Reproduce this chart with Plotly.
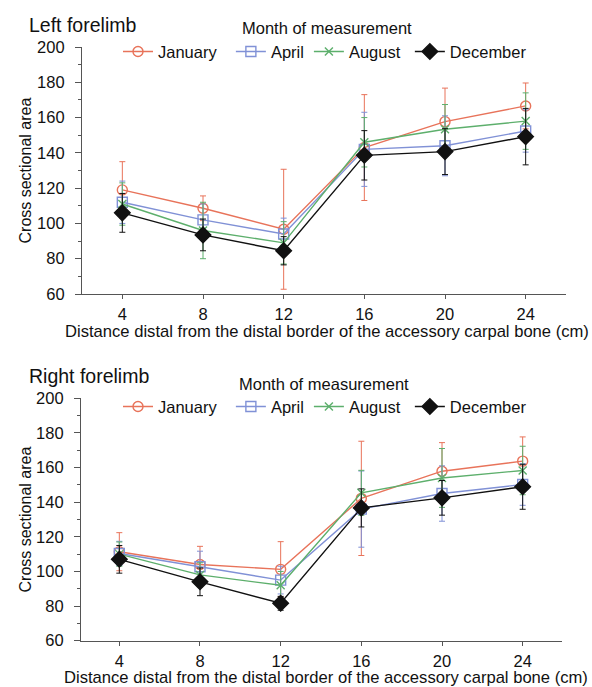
import plotly.graph_objects as go

# ---------------- data ----------------
distance_cm = [4, 8, 12, 16, 20, 24]
months = ["January", "April", "August", "December"]

left_mean = {
    "January":  [119.0, 108.6, 96.7, 143.0, 157.7, 166.6],
    "April":    [112.0, 102.0, 94.0, 142.0, 144.0, 152.4],
    "August":   [111.0, 96.0, 89.0, 146.0, 153.4, 158.0],
    "December": [106.0, 93.5, 84.5, 138.6, 140.7, 149.2],
}
left_sd = {
    "January":  [16, 7, 34, 30, 19, 13],
    "April":    [12, 9, 9, 21, 17, 12],
    "August":   [12, 16, 12, 14, 14, 16],
    "December": [11, 9, 8, 14, 13, 16],
}
right_mean = {
    "January":  [111.4, 104.0, 101.2, 142.2, 157.9, 163.7],
    "April":    [110.4, 102.7, 95.0, 136.0, 145.0, 150.2],
    "August":   [110.0, 98.0, 92.0, 145.4, 154.0, 158.3],
    "December": [107.0, 94.0, 81.6, 136.7, 142.5, 148.9],
}
right_sd = {
    "January":  [11, 10.5, 16, 33, 16.5, 14],
    "April":    [7, 9, 8, 22, 16, 12],
    "August":   [7, 7, 8, 13, 17, 14],
    "December": [8, 8, 4, 11, 10, 13],
}
y_ticks = [60, 80, 100, 120, 140, 160, 180, 200]
x_ticks = [4, 8, 12, 16, 20, 24]

# ---------------- styles ----------------
W, H = 592, 687
FONT = "Liberation Sans, Arial, Helvetica, sans-serif"
colors = {"January": "#E8735A", "April": "#8091D6", "August": "#5DAF6C", "December": "#111111"}
symbols = {"January": "circle-open", "April": "square-open", "August": "x-thin-open", "December": "diamond"}
sizes = {"January": 10, "April": 10, "August": 8, "December": 12}
NB = "\u00a0"
legend_label = {"January": "January" + NB * 2, "April": "April", "August": "August" + NB,
                "December": "December"}

def px_x(p):
    return p / W

def px_y(p):
    return 1 - p / H

fig = go.Figure()

for means, sds, xa, ya, lg in [
    (left_mean, left_sd, "x", "y", "legend"),
    (right_mean, right_sd, "x2", "y2", "legend2"),
]:
    for m in months:
        fig.add_trace(go.Scatter(
            x=distance_cm, y=means[m], name=legend_label[m], mode="lines+markers",
            xaxis=xa, yaxis=ya, legend=lg,
            line=dict(color=colors[m], width=1.4),
            marker=dict(symbol=symbols[m], size=sizes[m], color=colors[m],
                        line=dict(color=colors[m], width=1.4)),
            error_y=dict(type="data", array=sds[m], visible=True,
                         color=colors[m], thickness=1, width=3),
        ))

axis_common = dict(
    showgrid=False, zeroline=False, showline=True, linecolor="#555555", linewidth=1.2,
    ticks="outside", tickcolor="#555555", tickfont=dict(family=FONT, size=16.5, color="#111111"),
)
minor = dict(dtick=10, ticks="outside", ticklen=3, tickcolor="#555555")

fig.update_layout(
    width=W, height=H, margin=dict(l=0, r=0, t=0, b=0, autoexpand=False),
    paper_bgcolor="white", plot_bgcolor="white", showlegend=True,
    font=dict(family=FONT, color="#111111"),
    xaxis=dict(domain=[px_x(82), px_x(566)], range=[2, 26], tickvals=x_ticks, ticklen=4,
               ticklabelstandoff=1, anchor="y", **axis_common),
    yaxis=dict(domain=[px_y(294), px_y(47)], range=[60, 200], tickvals=y_ticks, ticklen=6,
               ticklabelstandoff=7, anchor="x", minor=minor, **axis_common),
    xaxis2=dict(domain=[px_x(81), px_x(562)], range=[2.1, 25.95], tickvals=x_ticks, ticklen=4,
                ticklabelstandoff=1, anchor="y2", **axis_common),
    yaxis2=dict(domain=[px_y(640.7), px_y(398.3)], range=[60, 200], tickvals=y_ticks, ticklen=6,
                ticklabelstandoff=7, anchor="x2", minor=minor, **axis_common),
    legend=dict(orientation="h", x=px_x(118), y=px_y(51.7), xanchor="left", yanchor="middle",
                bgcolor="rgba(0,0,0,0)", font=dict(family=FONT, size=16.5, color="#111111")),
    legend2=dict(orientation="h", x=px_x(118), y=px_y(406.7), xanchor="left", yanchor="middle",
                 bgcolor="rgba(0,0,0,0)", font=dict(family=FONT, size=16.5, color="#111111")),
)

annots = [
    dict(text="Left forelimb", x=px_x(27), y=px_y(25), xanchor="left", size=19.5),
    dict(text="Right forelimb", x=px_x(27), y=px_y(375.7), xanchor="left", size=19.5),
    dict(text="Month of measurement", x=px_x(326.5), y=px_y(28.3), xanchor="center", size=16.5),
    dict(text="Month of measurement", x=px_x(324), y=px_y(384.3), xanchor="center", size=16.5),
    dict(text="Distance distal from the distal border of the accessory carpal bone (cm)",
         x=px_x(327), y=px_y(331), xanchor="center", size=16.6),
    dict(text="Distance distal from the distal border of the accessory carpal bone (cm)",
         x=px_x(326), y=px_y(677), xanchor="center", size=16.6),
]
for a in annots:
    fig.add_annotation(text=a["text"], x=a["x"], y=a["y"], xref="paper", yref="paper",
                       xanchor=a["xanchor"], yanchor="middle", showarrow=False,
                       font=dict(family=FONT, size=a["size"], color="#111111"))
for yc in (170.5, 519.5):
    fig.add_annotation(text="Cross sectional area", x=px_x(25), y=px_y(yc), xref="paper", yref="paper",
                       textangle=-90, xanchor="center", yanchor="middle", showarrow=False,
                       font=dict(family=FONT, size=16, color="#111111"))

fig.write_html("out.html", config={"displayModeBar": False},
               post_script="document.body.style.margin='0px';")
